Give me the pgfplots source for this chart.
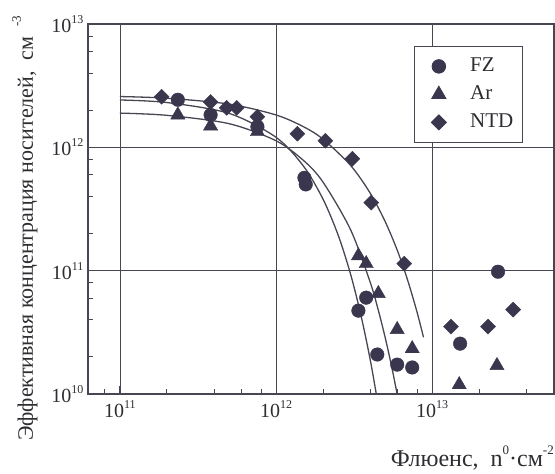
\documentclass[border=0pt]{standalone}
\usepackage{fontspec}
\setmainfont{Liberation Serif}
\usepackage{pgfplots}
\pgfplotsset{compat=1.18}
\definecolor{ink}{RGB}{58,54,78}
\definecolor{lin}{RGB}{72,70,82}
\definecolor{txt}{RGB}{45,45,50}
\newcommand{\sy}[2]{#1\raisebox{9pt}{\fontsize{12}{12}\selectfont #2}}
\begin{document}
\begin{tikzpicture}
\useasboundingbox (-88pt,-80pt) rectangle (467pt,394pt);
\begin{axis}[
  at={(0,0)}, anchor=south west,
  scale only axis, width=466pt, height=370pt,
  xmode=log, ymode=log,
  xmin=6.25e10, xmax=6.03e13, ymin=1e10, ymax=1e13,
  xtick={1e11,1e12,1e13},
  xticklabels={\sy{10}{11},\sy{10}{12},\sy{10}{13}},
  ytick={1e10,1e11,1e12,1e13},
  yticklabels={\sy{10}{10},\sy{10}{11},\sy{10}{12},\sy{10}{13}},
  minor xtick={8e10,2e11,4e11,6e11,8e11,2e12,4e12,6e12,8e12,2e13,4e13},
  minor ytick={2e10,4e10,6e10,8e10,2e11,4e11,6e11,8e11,2e12,4e12,6e12,8e12},
  tick pos=left, tick align=inside,
  major tick length=8pt, minor tick length=5pt,
  every tick/.style={line width=0.8pt, color=lin},
  grid=major, major grid style={line width=0.7pt, color=lin},
  axis line style={line width=1.2pt, color=lin},
  ticklabel style={font=\fontsize{20}{22}\selectfont, text=txt},
  xticklabel style={yshift=-3pt},
  yticklabel style={xshift=-1pt},
  xlabel={Флюенс,\ \ n\raisebox{12pt}{\fontsize{13}{13}\selectfont 0}·см\raisebox{12pt}{\fontsize{13}{13}\selectfont -2}},
  xlabel style={at={(axis description cs:1,0)}, anchor=base east, inner sep=0pt, yshift=-73pt, font=\fontsize{24}{26}\selectfont, text=txt},
  ylabel={Эффективная концентрация носителей,\ \ см\hspace{10pt}\raisebox{12pt}{\fontsize{13}{13}\selectfont -3}},
  ylabel style={at={(axis description cs:-0.1352,0.4480)}, anchor=center, rotate=0, inner sep=0pt, font=\fontsize{22}{24}\selectfont, text=txt},
  legend style={at={(axis description cs:0.933,0.9405)}, anchor=north east, draw=lin, line width=0.8pt,
    font=\fontsize{21}{24}\selectfont, text=txt, inner xsep=7pt, inner ysep=6pt,
    nodes={text height=14pt, text depth=4pt, inner ysep=5pt}},
  legend image code/.code={\path (0pt,0pt) (46pt,0pt); \draw[#1] plot coordinates {(17pt,0pt)};},
  legend cell align=left,
]
% fitted curves
\addplot[lin, line width=1.3pt, smooth, forget plot] coordinates {
 (1e11,2.581e12) (2e11,2.500e12) (5e11,2.242e12) (1e12,1.829e12) (1.5e12,1.468e12)
 (2e12,1.164e12) (3e12,7.14e11) (4e12,4.27e11) (5e12,2.50e11) (6e12,1.444e11)
 (7e12,8.20e10) (8e12,4.61e10) (8.8e12,2.88e10)};
\addplot[lin, line width=1.3pt, smooth, forget plot] coordinates {
 (1e11,2.42e12) (2e11,2.307e12) (5e11,1.885e12) (1e12,1.206e12) (1.5e12,7.03e11)
 (2e12,3.80e11) (2.5e12,1.94e11) (3e12,9.39e10) (3.5e12,4.33e10) (4e12,1.93e10) (4.4e12,9.76e9)};
\addplot[lin, line width=1.3pt, smooth, forget plot] coordinates {
 (1e11,1.894e12) (2e11,1.817e12) (5e11,1.555e12) (1e12,1.13e12) (1.5e12,7.82e11)
 (2e12,5.22e11) (3e12,2.15e11) (4e12,8.13e10) (4.5e12,4.87e10) (5e12,2.87e10)
 (5.5e12,1.67e10) (6e12,9.6e9)};
% FZ
\addplot[only marks, mark=*, mark size=6.8pt, draw=ink, fill=ink] coordinates {
 (2.35e11,2.43e12) (3.81e11,1.83e12) (7.6e11,1.47e12) (1.52e12,5.66e11) (1.55e12,5.0e11)
 (3.37e12,4.74e10) (3.78e12,6.04e10) (4.45e12,2.09e10) (5.97e12,1.73e10) (7.45e12,1.64e10)
 (1.51e13,2.56e10) (2.64e13,9.8e10)};
\addlegendentry{FZ}
% Ar
\addplot[only marks, mark=triangle*, mark size=8.2pt, draw=ink, fill=ink] coordinates {
 (2.35e11,1.83e12) (3.81e11,1.49e12) (7.6e11,1.34e12) (3.37e12,1.32e11) (3.78e12,1.14e11)
 (4.52e12,6.52e10) (5.97e12,3.33e10) (7.45e12,2.33e10) (1.49e13,1.19e10) (2.6e13,1.70e10)};
\addlegendentry{Ar}
% NTD
\addplot[only marks, mark=square*, mark size=5.3pt, mark options={rotate=45}, draw=ink, fill=ink] coordinates {
 (1.85e11,2.57e12) (3.81e11,2.33e12) (4.83e11,2.09e12) (5.6e11,2.09e12) (7.6e11,1.77e12)
 (1.37e12,1.29e12) (2.07e12,1.13e12) (3.08e12,8.07e11) (4.07e12,3.56e11) (6.62e12,1.14e11)
 (1.32e13,3.52e10) (2.28e13,3.52e10) (3.3e13,4.83e10)};
\addlegendentry{NTD}
\end{axis}
\end{tikzpicture}
\end{document}
